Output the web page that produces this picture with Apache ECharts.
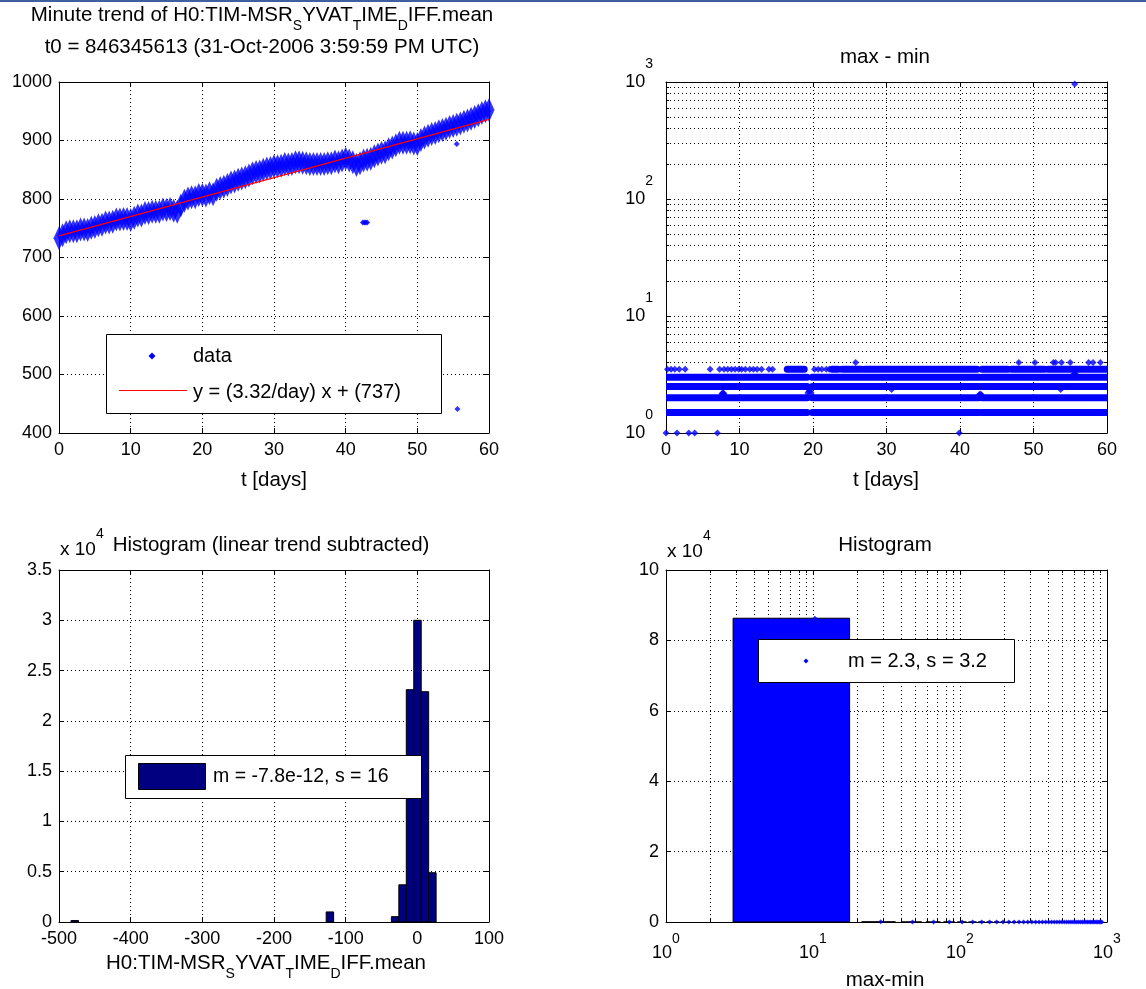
<!DOCTYPE html>
<html>
<head>
<meta charset="utf-8">
<script src="https://cdn.jsdelivr.net/npm/echarts@6/dist/echarts.min.js"></script>
<style>
  html, body { margin: 0; padding: 0; background: #fff; }
  #chart { width: 1146px; height: 989px; }
</style>
</head>
<body>
<div id="chart"></div>
<script>
// ---------------- data ----------------
// minute-trend mean of the channel, [t (days), value]
const trendMean = [
  [0,733],[0.5,738],[1,743],[1.5,745],[2,745],[2.5,745],[3,748],[3.5,748],[4,747],[4.5,751],
  [5,752],[5.5,755],[6,756],[6.5,760],[7,760],[7.5,761],[8,765],[8.5,765],[9,766],[9.5,766],
  [10,764],[10.5,768],[11,772],[11.5,772],[12,776],[12.5,776],[13,778],[13.5,778],[14,778],[14.5,782],
  [15,781],[15.5,783],[16,780],[16.5,778],[17,789],[17.5,797],[18,801],[18.5,803],[19,803],[19.5,807],
  [20,807],[20.5,806],[21,810],[21.5,808],[22,816],[22.5,819],[23,821],[23.5,824],[24,828],[24.5,830],
  [25,833],[25.5,835],[26,837],[26.5,840],[27,844],[27.5,846],[28,847],[28.5,850],[29,852],[29.5,853],
  [30,856],[30.5,856],[31,857],[31.5,860],[32,859],[32.5,860],[33,863],[33.5,863],[34,862],[34.5,861],
  [35,860],[35.5,860],[36,860],[36.5,860],[37,860],[37.5,861],[38,861],[38.5,864],[39,863],[39.5,866],
  [40,869],[40.5,866],[41,863],[41.5,858],[42,861],[42.5,866],[43,867],[43.5,869],[44,873],[44.5,876],
  [45,879],[45.5,880],[46,885],[46.5,888],[47,892],[47.5,896],[48,896],[48.5,896],[49,897],[49.5,895],
  [50,894],[50.5,901],[51,905],[51.5,908],[52,911],[52.5,913],[53,916],[53.5,918],[54,920],[54.5,923],
  [55,925],[55.5,927],[56,929],[56.5,932],[57,934],[57.5,937],[58,940],[58.5,943],[59,947],[59.5,950],[60,952]
];
const trendOutliers = [[42.4,760],[42.6,760],[42.8,760],[43.0,760],[55.5,894],[55.6,441]];

// linear fit shown in the legend
const fitSlope = 3.32;      // per day
const fitIntercept = 737;
const fitRange = [0, 60];

// max - min per minute: continuous runs [tStart, level, tEnd]
const rangeRuns = [
  [0,1.5,7.6],[7.85,1.5,19.2],[19.9,1.5,42.6],[43.0,1.5,53.6],[53.8,1.5,54.6],[54.8,1.5,55.3],[55.5,1.5,60],
  [0,2,7.6],[7.85,2,19.2],[19.9,2,42.6],[43.0,2,60],
  [0,2.5,7.6],[7.85,2.5,19.2],[19.9,2.5,42.6],[43.0,2.5,60],
  [0,3,7.6],[7.85,3,19.2],[19.9,3,42.6],[43.0,3,60],
  [16.5,3.5,18.8],[22.6,3.5,23.4],[24.0,3.5,26.6],[27.0,3.5,42.3],[43.0,3.5,46.5],[47.0,3.5,51.5],[52.0,3.5,60]
];
// max - min: isolated minutes
const rangePoints = [
  [0,1],[1.5,1],[3.1,1],[3.9,1],[7.0,1],[39.9,1],
  [0.2,3.5],[0.7,3.5],[1.2,3.5],[1.8,3.5],[2.6,3.5],[6.0,3.5],[7.3,3.5],[7.9,3.5],[8.4,3.5],[8.9,3.5],
  [9.4,3.5],[9.9,3.5],[10.3,3.5],[10.8,3.5],[11.4,3.5],[11.9,3.5],[12.4,3.5],[13.0,3.5],[14.0,3.5],[14.5,3.5],
  [20.2,3.5],[20.7,3.5],[21.2,3.5],[21.8,3.5],[22.2,3.5],[23.7,3.5],
  [25.8,4],[48.0,4],[50.2,4],[52.7,4],[53.0,4],[53.8,4],[55.0,4],[57.5,4],[58.1,4],[59.1,4],
  [7.6,2.15],[7.7,2.2],[7.8,2.2],[7.9,2.15],
  [19.3,2.2],[19.45,2.27],[19.6,2.27],[19.75,2.2],
  [42.6,2.12],[42.75,2.15],[42.9,2.12],
  [30.7,2.35],[53.7,2.35],[55.4,3.15],[55.6,3.2],[55.8,3.15],
  [55.6,960]
];

// histogram of the residual after removing the linear trend
const residBinWidth = 10.4;
const residCenters = [-478, -122, -31, -20.6, -10.2, 0.2, 10.6, 21.0];
const residCounts  = [150, 1000, 530, 3700, 23100, 30000, 22900, 4900];

// histogram of max - min
const rangeBinWidth = 18.6;
const rangeCenters = [
  10.3, 28.9, 47.5, 66.1, 84.7, 103.3, 121.9, 140.5, 159.1, 177.7,
  196.3, 214.9, 233.5, 252.1, 270.7, 289.3, 307.9, 326.5, 345.1, 363.7,
  382.3, 400.9, 419.5, 438.1, 456.7, 475.3, 493.9, 512.5, 531.1, 549.7,
  568.3, 586.9, 605.5, 624.1, 642.7, 661.3, 679.9, 698.5, 717.1, 735.7,
  754.3, 772.9, 791.5, 810.1, 828.7, 847.3, 865.9, 884.5, 903.1, 921.7
];
const rangeCounts = [
  86300, 40, 12, 6, 4, 3, 2, 2, 1, 1,
  1, 1, 1, 0, 1, 0, 1, 1, 0, 1,
  0, 1, 0, 1, 1, 0, 1, 0, 1, 0,
  1, 1, 0, 1, 0, 1, 1, 0, 1, 0,
  1, 1, 0, 1, 1, 1, 0, 1, 1, 1
];

// text
const channelRich = '{m|H0:TIM-MSR}{u|S}{m|YVAT}{u|T}{m|IME}{u|D}{m|IFF.mean}';
const titleTrend = '{m|Minute trend of }' + channelRich;
const titleT0 = 't0 = 846345613 (31-Oct-2006 3:59:59 PM UTC)';
const titleRange = 'max - min';
const titleResid = 'Histogram (linear trend subtracted)';
const titleRangeHist = 'Histogram';
const nameT = 't [days]';
const nameRange = 'max-min';
const legendData = 'data';
const legendFit = 'y = (' + fitSlope + '/day) x + (' + fitIntercept + ')';
const legendResid = 'm = -7.8e-12, s = 16';
const legendRange = 'm = 2.3, s = 3.2';

// ---------------- styling helpers ----------------
const FONT = '"Liberation Sans", Arial, Helvetica, sans-serif';
const TXT = 20.5;           // titles and axis names
const BLUE = '#0000ff';
const NAVY = '#000080';
const dotted = { color: '#000', width: 1, type: [1, 3] };

const subRich = {
  m: { fontFamily: FONT, fontSize: TXT, color: '#000', lineHeight: 28, verticalAlign: 'top' },
  u: { fontFamily: FONT, fontSize: 14, color: '#000', verticalAlign: 'bottom' }
};
const supRich = (lh, size) => ({
  b: { fontFamily: FONT, fontSize: size || 18, color: '#000', lineHeight: lh, verticalAlign: 'middle' },
  s: { fontFamily: FONT, fontSize: 14, color: '#000', verticalAlign: 'top' }
});
const pow10Label = (v) => '{b|10}{s|' + Math.round(Math.log10(v)) + '}';

function axis(o) {
  const a = {
    type: o.log ? 'log' : 'value',
    gridIndex: o.grid,
    position: o.pos,
    min: o.min, max: o.max,
    axisLine: { show: true, onZero: false, lineStyle: { color: '#000', width: 1 } },
    axisTick: { show: true, inside: true, length: 5, lineStyle: { color: '#000', width: 1 } },
    splitLine: { show: !!o.lines, lineStyle: dotted },
    axisLabel: { show: false }
  };
  if (o.log) {
    a.logBase = 10;
    a.minorTick = { show: true, splitNumber: 9, length: 3, lineStyle: { color: '#000', width: 1 } };
    a.minorSplitLine = { show: !!o.lines, lineStyle: dotted };
  } else {
    a.interval = o.interval;
  }
  if (o.label) {
    a.axisLabel = Object.assign({
      show: true, color: '#000', fontFamily: FONT, fontSize: 18,
      showMinLabel: true, showMaxLabel: true, hideOverlap: false,
      formatter: (v) => String(v)
    }, o.label);
  }
  return a;
}

const G = [
  { left: 59, top: 82, width: 430, height: 351 },
  { left: 666, top: 82, width: 441, height: 351 },
  { left: 59, top: 570, width: 430, height: 352 },
  { left: 666, top: 570, width: 441, height: 352 }
];

const xAxes = [
  axis({ grid: 0, pos: 'bottom', min: 0, max: 60, interval: 10, lines: true, label: { margin: 8 } }),
  axis({ grid: 0, pos: 'top', min: 0, max: 60, interval: 10 }),
  axis({ grid: 1, pos: 'bottom', min: 0, max: 60, interval: 10, lines: true, label: { margin: 8 } }),
  axis({ grid: 1, pos: 'top', min: 0, max: 60, interval: 10 }),
  axis({ grid: 2, pos: 'bottom', min: -500, max: 100, interval: 100, lines: true, label: { margin: 8 } }),
  axis({ grid: 2, pos: 'top', min: -500, max: 100, interval: 100 }),
  axis({ grid: 3, pos: 'bottom', log: true, min: 1, max: 1000, lines: true,
         label: { margin: 10, formatter: pow10Label, rich: supRich(42) } }),
  axis({ grid: 3, pos: 'top', log: true, min: 1, max: 1000 })
];
const yAxes = [
  axis({ grid: 0, pos: 'left', min: 400, max: 1000, interval: 100, lines: true, label: { margin: 7 } }),
  axis({ grid: 0, pos: 'right', min: 400, max: 1000, interval: 100 }),
  axis({ grid: 1, pos: 'left', log: true, min: 1, max: 1000, lines: true,
         label: { margin: 13, formatter: pow10Label, rich: supRich(50) } }),
  axis({ grid: 1, pos: 'right', log: true, min: 1, max: 1000 }),
  axis({ grid: 2, pos: 'left', min: 0, max: 35000, interval: 5000, lines: true,
         label: { margin: 7, formatter: (v) => String(v / 1e4) } }),
  axis({ grid: 2, pos: 'right', min: 0, max: 35000, interval: 5000 }),
  axis({ grid: 3, pos: 'left', min: 0, max: 100000, interval: 20000, lines: true,
         label: { margin: 7, formatter: (v) => String(v / 1e4) } }),
  axis({ grid: 3, pos: 'right', min: 0, max: 100000, interval: 20000 })
];

// histogram rectangles through the axis scales
function histRenderer(binWidth, frac, fill) {
  return function (params, api) {
    const c = api.value(0), n = api.value(1);
    const half = binWidth * frac / 2;
    const p0 = api.coord([c - half, n]);
    const p1 = api.coord([c + half, 0]);
    return {
      type: 'rect',
      shape: { x: p0[0], y: p0[1], width: p1[0] - p0[0], height: p1[1] - p0[1] },
      style: { fill: fill, stroke: '#000', lineWidth: 1 }
    };
  };
}

const series = [
  {
    type: 'scatter', xAxisIndex: 0, yAxisIndex: 0, data: trendMean,
    symbol: 'diamond', symbolSize: [11, 24], itemStyle: { color: BLUE }, silent: true, z: 3
  },
  {
    type: 'scatter', xAxisIndex: 0, yAxisIndex: 0, data: trendOutliers,
    symbol: 'diamond', symbolSize: 6, itemStyle: { color: BLUE }, silent: true, z: 3
  },
  {
    type: 'line', xAxisIndex: 0, yAxisIndex: 0,
    data: fitRange.map((t) => [t, fitIntercept + fitSlope * t]),
    symbol: 'none', lineStyle: { color: '#ff0000', width: 1.2 }, silent: true, z: 4
  },
  {
    type: 'custom', xAxisIndex: 2, yAxisIndex: 2, data: rangeRuns, clip: true,
    encode: { x: [0, 2], y: 1 }, silent: true, z: 3,
    renderItem: function (params, api) {
      const a = api.coord([api.value(0), api.value(1)]);
      const b = api.coord([api.value(2), api.value(1)]);
      return {
        type: 'line',
        shape: { x1: a[0], y1: a[1], x2: b[0], y2: b[1] },
        style: { stroke: BLUE, lineWidth: 7, lineCap: 'round' }
      };
    }
  },
  {
    type: 'scatter', xAxisIndex: 2, yAxisIndex: 2, data: rangePoints,
    symbol: 'diamond', symbolSize: 7, itemStyle: { color: BLUE }, silent: true, z: 3
  },
  {
    type: 'custom', xAxisIndex: 4, yAxisIndex: 4, clip: true, silent: true, z: 3,
    data: residCenters.map((c, i) => [c, residCounts[i]]),
    renderItem: histRenderer(residBinWidth, 1, NAVY)
  },
  {
    type: 'custom', xAxisIndex: 6, yAxisIndex: 6, clip: true, silent: true, z: 3,
    data: rangeCenters.map((c, i) => [c, rangeCounts[i]]),
    renderItem: histRenderer(rangeBinWidth, 0.8, BLUE)
  },
  {
    type: 'scatter', xAxisIndex: 6, yAxisIndex: 6,
    data: rangeCenters.map((c, i) => [c, rangeCounts[i]]),
    symbol: 'diamond', symbolSize: 5, itemStyle: { color: BLUE }, silent: true, z: 4, clip: false
  }
];

function txt(x, y, text, opts) {
  return {
    type: 'text', x: x, y: y, z: 100,
    style: Object.assign({
      text: text, fill: '#000', fontFamily: FONT, fontSize: TXT,
      align: 'center', verticalAlign: 'middle'
    }, opts || {})
  };
}

const graphics = [
  { type: 'rect', shape: { x: 0, y: 0, width: 1146, height: 2 }, style: { fill: '#3f5f9f' } },
  // titles
  txt(262, 5, titleTrend, { rich: subRich, verticalAlign: 'top' }),
  txt(262, 47, titleT0),
  txt(885, 57, titleRange),
  txt(271, 545, titleResid),
  txt(885, 545, titleRangeHist),
  // axis names
  txt(274, 480, nameT),
  txt(886, 480, nameT),
  txt(266, 953, channelRich, { rich: subRich, verticalAlign: 'top' }),
  txt(885, 980, nameRange),
  // exponent labels for the count axes
  txt(60, 550, '{b|x 10}{s|4}', { rich: supRich(46, 19), align: 'left' }),
  txt(667, 552, '{b|x 10}{s|4}', { rich: supRich(46, 19), align: 'left' }),
  // legend: trend
  { type: 'rect', shape: { x: 106.5, y: 334.5, width: 335, height: 79 },
    style: { fill: '#fff', stroke: '#000', lineWidth: 1 } },
  { type: 'polygon', shape: { points: [[152, 352.5], [155.5, 356], [152, 359.5], [148.5, 356]] },
    style: { fill: BLUE } },
  txt(193, 356, legendData, { align: 'left', fontSize: 20 }),
  { type: 'line', shape: { x1: 119, y1: 390.5, x2: 187, y2: 390.5 },
    style: { stroke: '#ff0000', lineWidth: 1.2 } },
  txt(193, 392, legendFit, { align: 'left', fontSize: 20 }),
  // legend: residual histogram
  { type: 'rect', shape: { x: 125.5, y: 755.5, width: 296, height: 43 },
    style: { fill: '#fff', stroke: '#000', lineWidth: 1 } },
  { type: 'rect', shape: { x: 138.5, y: 763.5, width: 67, height: 26 },
    style: { fill: NAVY, stroke: '#000', lineWidth: 1 } },
  txt(213, 777, legendResid, { align: 'left', fontSize: 19.5 }),
  // legend: max-min histogram
  { type: 'rect', shape: { x: 758.5, y: 639.5, width: 256, height: 43 },
    style: { fill: '#fff', stroke: '#000', lineWidth: 1 } },
  { type: 'polygon', shape: { points: [[806, 658.5], [808.5, 661], [806, 663.5], [803.5, 661]] },
    style: { fill: BLUE } },
  txt(848, 661, legendRange, { align: 'left', fontSize: 20 })
];
graphics.forEach((g, i) => { g.z = 100 + i; });

const chart = echarts.init(document.getElementById('chart'), null, { renderer: 'canvas' });
chart.setOption({
  backgroundColor: '#fff',
  animation: false,
  grid: G.map((g) => Object.assign({ containLabel: false, outerBoundsMode: 'none' }, g)),
  xAxis: xAxes,
  yAxis: yAxes,
  series: series,
  graphic: { elements: graphics }
});
</script>
</body>
</html>
